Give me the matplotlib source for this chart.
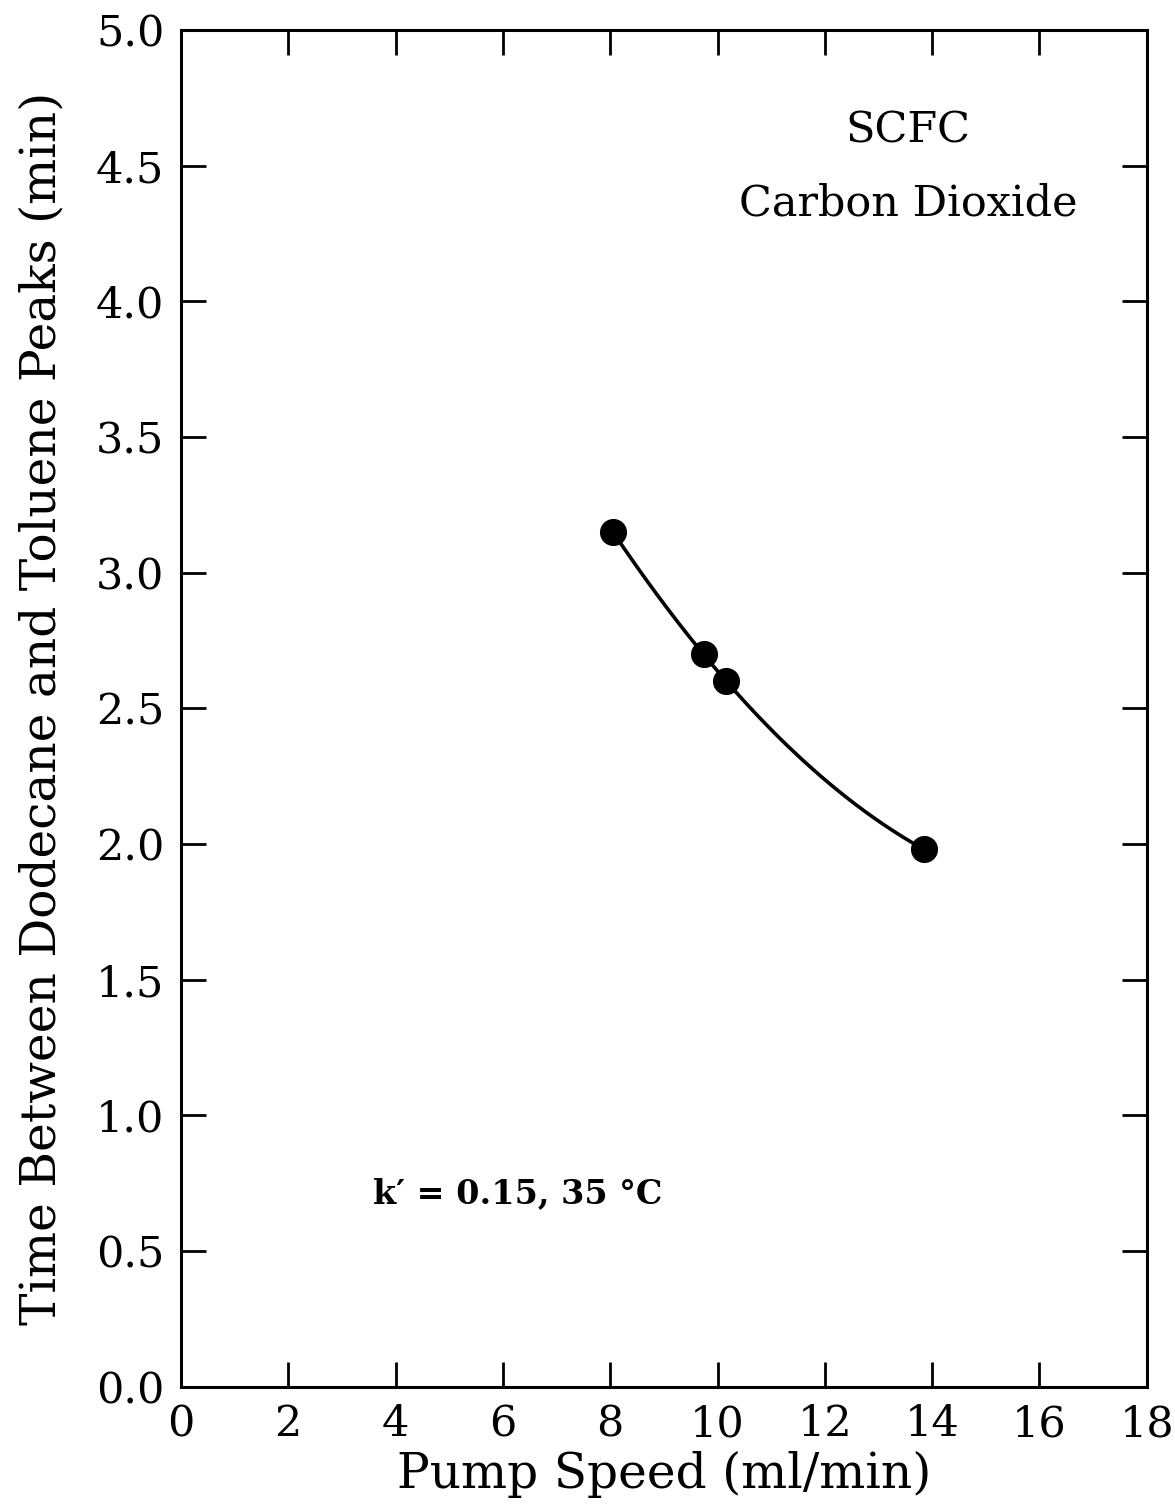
import matplotlib
matplotlib.use("Agg")
import matplotlib.pyplot as plt
import numpy as np

# data
pump_speed = [8.05, 9.75, 10.15, 13.85]
peak_time = [3.15, 2.70, 2.60, 1.98]

x_ticks = [0, 2, 4, 6, 8, 10, 12, 14, 16, 18]
y_ticks = [0.0, 0.5, 1.0, 1.5, 2.0, 2.5, 3.0, 3.5, 4.0, 4.5, 5.0]

plt.rcParams["font.family"] = "DejaVu Serif"

fig = plt.figure(figsize=(11.75, 15.12), dpi=100)
ax = fig.add_axes([0.154, 0.083, 0.822, 0.897])

# smooth curve through the points
coef = np.polyfit(pump_speed, peak_time, 2)
xs = np.linspace(min(pump_speed), max(pump_speed), 200)
ax.plot(xs, np.polyval(coef, xs), color="black", lw=2.6)
ax.plot(pump_speed, peak_time, "o", color="black", ms=18.5)

ax.set_xlim(0, 18)
ax.set_ylim(0, 5)
ax.set_xticks(x_ticks)
ax.set_yticks(y_ticks)
ax.set_xticklabels([str(t) for t in x_ticks])
ax.set_yticklabels([f"{t:.1f}" for t in y_ticks])
ax.tick_params(direction="in", length=18, width=2, labelsize=31,
               top=True, right=True, pad=12)
for s in ax.spines.values():
    s.set_linewidth(2.2)

ax.set_xlabel("Pump Speed (ml/min)", fontsize=35, labelpad=4)
ax.set_ylabel("Time Between Dodecane and Toluene Peaks (min)", fontsize=35, labelpad=22)

ax.text(13.55, 4.63, "SCFC", fontsize=31, ha="center", va="center")
ax.text(13.55, 4.36, "Carbon Dioxide", fontsize=31, ha="center", va="center")
ax.text(6.27, 0.71, "k\u2032 = 0.15, 35 °C", fontsize=24, fontweight="bold",
        ha="center", va="center")

plt.savefig("out.png")
plt.close()
